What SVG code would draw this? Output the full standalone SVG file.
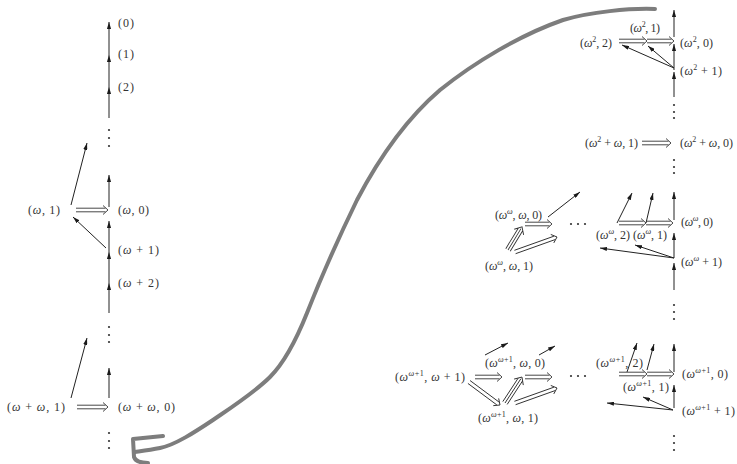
<svg xmlns="http://www.w3.org/2000/svg" width="737" height="464" viewBox="0 0 737 464">
<defs>
<marker id="ah" viewBox="0 0 10 6" refX="10" refY="3" markerWidth="7" markerHeight="4.2" markerUnits="userSpaceOnUse" orient="auto"><path d="M0,0L10,3L0,6z" fill="#1a1a1a"/></marker>
</defs>
<style>
text{font-family:"Liberation Serif","DejaVu Serif",serif;font-size:12px;fill:#333}
.w{font-style:italic}
.sup{font-size:8px}
.arr{stroke:#222;stroke-width:1;fill:none;marker-end:url(#ah)}
.dbl{stroke:#333;stroke-width:0.9;fill:none}
.dot{fill:#333}
.curve{fill:none;stroke:#7d7d7d;stroke-width:4;stroke-linecap:round;stroke-linejoin:round}
</style>
<rect width="737" height="464" fill="#fff"/>

<g id="curve">
<path class="curve" d="M655,9 C630,8 590,12 563,20 C520,35 475,62 440,90 C405,120 378,160 357,200 C340,235 318,285 307,313 C297,338 285,362 270,377 C255,392 235,405 213,420 C195,432 175,445 160,448 C150,450 142,451 135,452"/>
<path class="curve" d="M163,436 L133,439 L134,457 Q136,463 148,463"/>
</g>

<g id="connectors">
<line class="arr" x1="109" y1="118" x2="109" y2="87"/>
<line class="arr" x1="109" y1="87" x2="109" y2="55"/>
<line class="arr" x1="109" y1="55" x2="109" y2="22"/>
<line class="arr" x1="109" y1="207" x2="109" y2="175"/>
<line class="arr" x1="109" y1="252" x2="109" y2="221"/>
<line class="arr" x1="109" y1="283" x2="109" y2="252"/>
<line class="arr" x1="109" y1="313" x2="109" y2="283"/>
<line class="arr" x1="71" y1="205" x2="87" y2="143"/>
<line class="arr" x1="106" y1="248" x2="73" y2="217"/>
<line class="arr" x1="71" y1="398" x2="87" y2="338"/>
<line class="arr" x1="109" y1="398" x2="109" y2="368"/>
<line class="arr" x1="674" y1="37" x2="674" y2="10"/>
<line class="arr" x1="674" y1="70" x2="674" y2="44"/>
<line class="arr" x1="674" y1="97" x2="674" y2="72"/>
<line class="arr" x1="674" y1="68" x2="622" y2="45"/>
<line class="arr" x1="674" y1="68" x2="648" y2="46"/>
<line class="arr" x1="674" y1="220" x2="674" y2="192"/>
<line class="arr" x1="674" y1="258" x2="674" y2="233"/>
<line class="arr" x1="674" y1="290" x2="674" y2="263"/>
<line class="arr" x1="617" y1="223" x2="632" y2="193"/>
<line class="arr" x1="646" y1="223" x2="653" y2="193"/>
<line class="arr" x1="674" y1="258" x2="600" y2="248"/>
<line class="arr" x1="674" y1="258" x2="635" y2="245"/>
<line class="arr" x1="548" y1="217" x2="580" y2="192"/>
<line class="arr" x1="674" y1="372" x2="674" y2="344"/>
<line class="arr" x1="674" y1="408" x2="674" y2="385"/>
<line class="arr" x1="627" y1="372" x2="637" y2="343"/>
<line class="arr" x1="647" y1="370" x2="654" y2="344"/>
<line class="arr" x1="673" y1="410" x2="607" y2="403"/>
<line class="arr" x1="673" y1="410" x2="643" y2="397"/>
<line class="arr" x1="485" y1="355" x2="508" y2="343"/>
<line class="arr" x1="539" y1="355" x2="555" y2="346"/>
<g transform="translate(76 210)"><path class="dbl" d="M0,-1.8H29.5M0,1.8H29.5M27,-4.5L32,0L27,4.5"/></g>
<g transform="translate(77 407)"><path class="dbl" d="M0,-1.8H28.5M0,1.8H28.5M26,-4.5L31,0L26,4.5"/></g>
<g transform="translate(619 41)"><path class="dbl" d="M0,-1.8H25.5M0,1.8H25.5M23,-4.5L28,0L23,4.5"/></g>
<g transform="translate(647 41)"><path class="dbl" d="M0,-1.8H24.5M0,1.8H24.5M22,-4.5L27,0L22,4.5"/></g>
<g transform="translate(642 143)"><path class="dbl" d="M0,-1.8H26.5M0,1.8H26.5M24,-4.5L29,0L24,4.5"/></g>
<g transform="translate(619 223)"><path class="dbl" d="M0,-1.8H24.5M0,1.8H24.5M22,-4.5L27,0L22,4.5"/></g>
<g transform="translate(646 223)"><path class="dbl" d="M0,-1.8H24.5M0,1.8H24.5M22,-4.5L27,0L22,4.5"/></g>
<g transform="translate(525 224)"><path class="dbl" d="M0,-1.8H24.5M0,1.8H24.5M22,-4.5L27,0L22,4.5"/></g>
<g transform="translate(515 252) rotate(-19.65)"><path class="dbl" d="M0,-1.8H42M0,1.8H42M39.6,-4.5L44.6,0L39.6,4.5"/></g>
<g transform="translate(508 250) rotate(-58.7)"><path class="dbl" d="M0,-2.6H24M0,0H25M0,2.6H24M21,-5.5L27,0L21,5.5"/></g>
<g transform="translate(475 377)"><path class="dbl" d="M0,-1.8H24.5M0,1.8H24.5M22,-4.5L27,0L22,4.5"/></g>
<g transform="translate(525 377)"><path class="dbl" d="M0,-1.8H24.5M0,1.8H24.5M22,-4.5L27,0L22,4.5"/></g>
<g transform="translate(469 382) rotate(36.6)"><path class="dbl" d="M0,-1.8H36M0,1.8H36M33.6,-4.5L38.6,0L33.6,4.5"/></g>
<g transform="translate(505 403) rotate(-56.8)"><path class="dbl" d="M0,-2.6H28M0,0H29M0,2.6H28M25,-5.5L31,0L25,5.5"/></g>
<g transform="translate(515 403) rotate(-19.65)"><path class="dbl" d="M0,-1.8H42M0,1.8H42M39.6,-4.5L44.6,0L39.6,4.5"/></g>
<g transform="translate(619 374)"><path class="dbl" d="M0,-1.8H25.5M0,1.8H25.5M23,-4.5L28,0L23,4.5"/></g>
<g transform="translate(647 374)"><path class="dbl" d="M0,-1.8H24.5M0,1.8H24.5M22,-4.5L27,0L22,4.5"/></g>
</g>

<g id="dots">
<circle class="dot" cx="109" cy="130" r="1.1"/><circle class="dot" cx="109" cy="138" r="1.1"/><circle class="dot" cx="109" cy="146" r="1.1"/>
<circle class="dot" cx="109" cy="327" r="1.1"/><circle class="dot" cx="109" cy="335" r="1.1"/><circle class="dot" cx="109" cy="342" r="1.1"/>
<circle class="dot" cx="109" cy="433" r="1.1"/><circle class="dot" cx="109" cy="441" r="1.1"/><circle class="dot" cx="109" cy="448" r="1.1"/>
<circle class="dot" cx="674" cy="105" r="1.1"/><circle class="dot" cx="674" cy="112" r="1.1"/><circle class="dot" cx="674" cy="118" r="1.1"/>
<circle class="dot" cx="674" cy="160" r="1.1"/><circle class="dot" cx="674" cy="167" r="1.1"/><circle class="dot" cx="674" cy="173" r="1.1"/>
<circle class="dot" cx="674" cy="305" r="1.1"/><circle class="dot" cx="674" cy="312" r="1.1"/><circle class="dot" cx="674" cy="319" r="1.1"/>
<circle class="dot" cx="674" cy="436" r="1.1"/><circle class="dot" cx="674" cy="443" r="1.1"/><circle class="dot" cx="674" cy="450" r="1.1"/>
<circle class="dot" cx="571" cy="224" r="1.1"/><circle class="dot" cx="578" cy="224" r="1.1"/><circle class="dot" cx="585" cy="224" r="1.1"/>
<circle class="dot" cx="571" cy="376" r="1.1"/><circle class="dot" cx="578" cy="376" r="1.1"/><circle class="dot" cx="585" cy="376" r="1.1"/>
</g>

<g id="n0"><text x="118" y="27" textLength="16">(0)</text></g>
<g id="n1"><text x="118" y="58" textLength="16">(1)</text></g>
<g id="n2"><text x="118" y="91" textLength="16">(2)</text></g>
<g id="nw1"><text x="28" y="214" textLength="32">(<tspan class="w">ω</tspan>, 1)</text></g>
<g id="nw0"><text x="118" y="214" textLength="31">(<tspan class="w">ω</tspan>, 0)</text></g>
<g id="nwp1"><text x="118" y="254" textLength="41">(<tspan class="w">ω</tspan> + 1)</text></g>
<g id="nwp2"><text x="118" y="287" textLength="41">(<tspan class="w">ω</tspan> + 2)</text></g>
<g id="nww1"><text x="7" y="411" textLength="58">(<tspan class="w">ω</tspan> + <tspan class="w">ω</tspan>, 1)</text></g>
<g id="nww0"><text x="118" y="411" textLength="57">(<tspan class="w">ω</tspan> + <tspan class="w">ω</tspan>, 0)</text></g>

<g id="nw2_2"><text x="580" y="47" textLength="32">(<tspan class="w">ω</tspan><tspan class="sup" dy="-5">2</tspan><tspan dy="5">, 2)</tspan></text></g>
<g id="nw2_1"><text x="630" y="32" textLength="30">(<tspan class="w">ω</tspan><tspan class="sup" dy="-5">2</tspan><tspan dy="5">, 1)</tspan></text></g>
<g id="nw2_0"><text x="680" y="47" textLength="33">(<tspan class="w">ω</tspan><tspan class="sup" dy="-5">2</tspan><tspan dy="5">, 0)</tspan></text></g>
<g id="nw2p1"><text x="680" y="75" textLength="42">(<tspan class="w">ω</tspan><tspan class="sup" dy="-5">2</tspan><tspan dy="5"> + 1)</tspan></text></g>
<g id="nw2w1"><text x="585" y="147" textLength="53">(<tspan class="w">ω</tspan><tspan class="sup" dy="-5">2</tspan><tspan dy="5"> + </tspan><tspan class="w">ω</tspan>, 1)</text></g>
<g id="nw2w0"><text x="680" y="147" textLength="53">(<tspan class="w">ω</tspan><tspan class="sup" dy="-5">2</tspan><tspan dy="5"> + </tspan><tspan class="w">ω</tspan>, 0)</text></g>

<g id="nww_w0"><text x="495" y="219" textLength="47">(<tspan class="w">ω</tspan><tspan class="sup w" dy="-5">ω</tspan><tspan dy="5">, </tspan><tspan class="w">ω</tspan>, 0)</text></g>
<g id="nww_w1"><text x="485" y="270" textLength="48">(<tspan class="w">ω</tspan><tspan class="sup w" dy="-5">ω</tspan><tspan dy="5">, </tspan><tspan class="w">ω</tspan>, 1)</text></g>
<g id="nww_2"><text x="596" y="239" textLength="34">(<tspan class="w">ω</tspan><tspan class="sup w" dy="-5">ω</tspan><tspan dy="5">, 2)</tspan></text></g>
<g id="nww_1"><text x="633" y="239" textLength="34">(<tspan class="w">ω</tspan><tspan class="sup w" dy="-5">ω</tspan><tspan dy="5">, 1)</tspan></text></g>
<g id="nww_0"><text x="681" y="226" textLength="32">(<tspan class="w">ω</tspan><tspan class="sup w" dy="-5">ω</tspan><tspan dy="5">, 0)</tspan></text></g>
<g id="nwwp1"><text x="681" y="266" textLength="41">(<tspan class="w">ω</tspan><tspan class="sup w" dy="-5">ω</tspan><tspan dy="5"> + 1)</tspan></text></g>

<g id="nwp_wp1"><text x="395" y="381" textLength="70">(<tspan class="w">ω</tspan><tspan class="sup" dy="-5"><tspan class="w">ω</tspan>+1</tspan><tspan dy="5">, </tspan><tspan class="w">ω</tspan> + 1)</text></g>
<g id="nwp_w0"><text x="485" y="367" textLength="60">(<tspan class="w">ω</tspan><tspan class="sup" dy="-5"><tspan class="w">ω</tspan>+1</tspan><tspan dy="5">, </tspan><tspan class="w">ω</tspan>, 0)</text></g>
<g id="nwp_w1"><text x="478" y="422" textLength="60">(<tspan class="w">ω</tspan><tspan class="sup" dy="-5"><tspan class="w">ω</tspan>+1</tspan><tspan dy="5">, </tspan><tspan class="w">ω</tspan>, 1)</text></g>
<g id="nwp_2"><text x="596" y="367" textLength="47">(<tspan class="w">ω</tspan><tspan class="sup" dy="-5"><tspan class="w">ω</tspan>+1</tspan><tspan dy="5">, 2)</tspan></text></g>
<g id="nwp_1"><text x="623" y="391" textLength="46">(<tspan class="w">ω</tspan><tspan class="sup" dy="-5"><tspan class="w">ω</tspan>+1</tspan><tspan dy="5">, 1)</tspan></text></g>
<g id="nwp_0"><text x="682" y="378" textLength="46">(<tspan class="w">ω</tspan><tspan class="sup" dy="-5"><tspan class="w">ω</tspan>+1</tspan><tspan dy="5">, 0)</tspan></text></g>
<g id="nwpp1"><text x="682" y="415" textLength="53">(<tspan class="w">ω</tspan><tspan class="sup" dy="-5"><tspan class="w">ω</tspan>+1</tspan><tspan dy="5"> + 1)</tspan></text></g>
</svg>
